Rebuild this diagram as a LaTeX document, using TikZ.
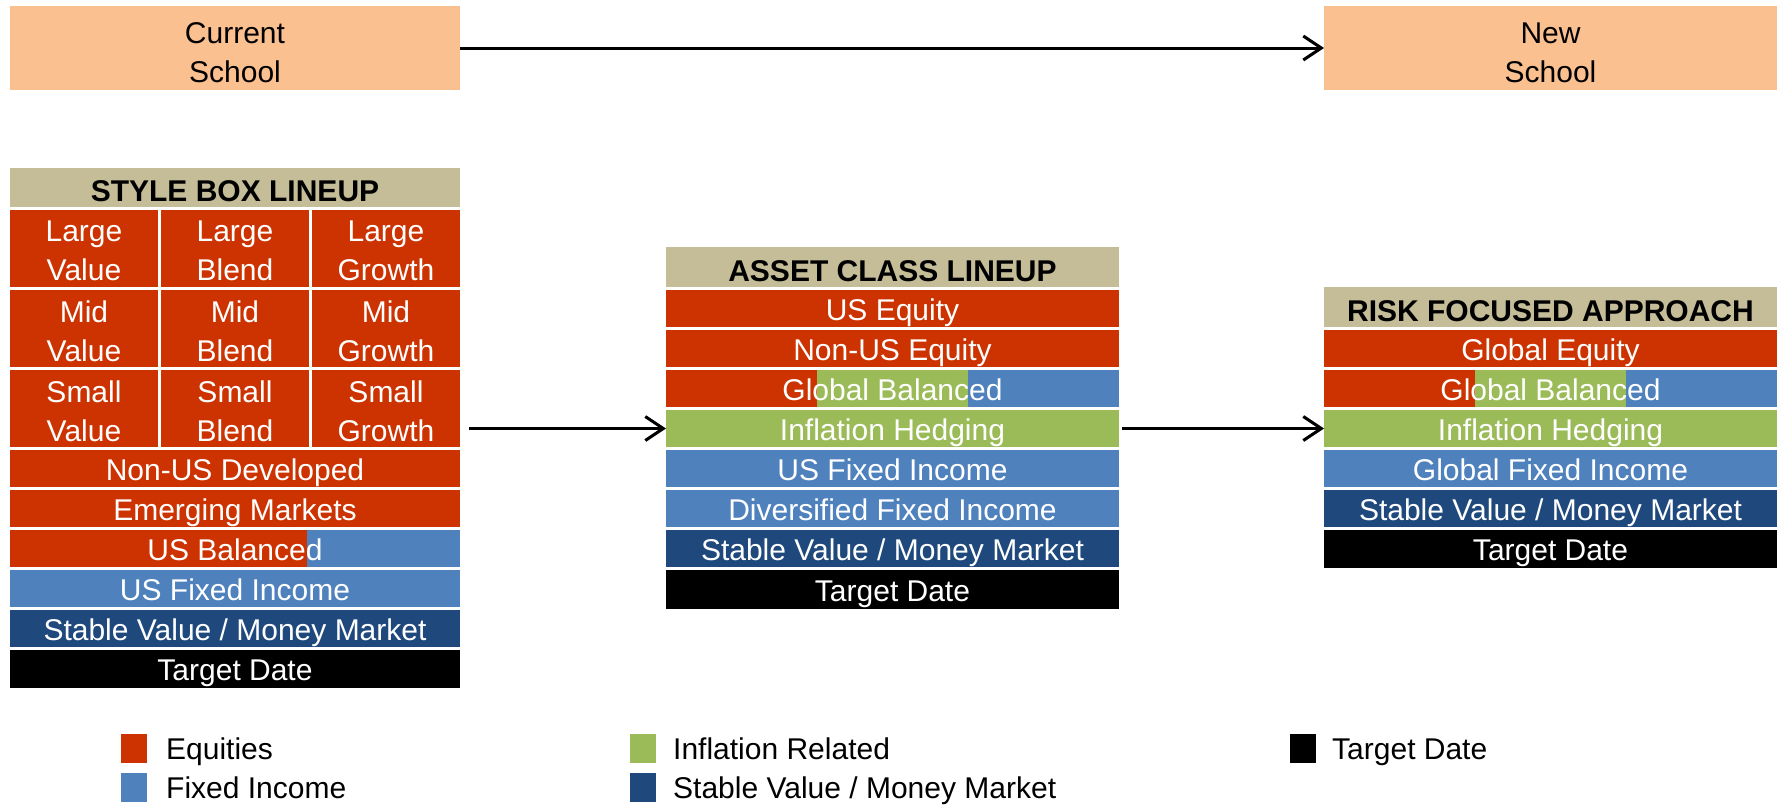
\documentclass[tikz,border=0pt]{standalone}
\usepackage{fontspec}
\setmainfont{Liberation Sans}
\usetikzlibrary{arrows.meta}
\definecolor{eqc}{HTML}{CC3300}
\definecolor{fic}{HTML}{4F81BD}
\definecolor{infc}{HTML}{9BBB59}
\definecolor{svc}{HTML}{1F497D}
\definecolor{hdrc}{HTML}{C4BD97}
\definecolor{peachc}{HTML}{FAC090}
% \cellbox{name}{x1}{x2}{y1}{y2}{style}{text}
\newcommand{\cellbox}[7]{%
  \node[cell,#6,minimum width={(#3-#2)*1pt},minimum height={(#5-#4)*1pt}] (#1) at ({(#2+#3)/2},{(#4+#5)/2}) {#7};}
% \twocell{name}{x1}{x2}{y1}{y2}{style}{text}{shift down}
\newcommand{\twocell}[8]{%
  \node[cellbase,#6,minimum width={(#3-#2)*1pt},minimum height={(#5-#4)*1pt}] (#1) at ({(#2+#3)/2},{(#4+#5)/2}) {};
  \node[cellbase,#6,fill=none] (#1t) at ([yshift=-#8pt]#1.center) {#7};}
\begin{document}
\begin{tikzpicture}[x=1pt,y=-1pt,
  cellbase/.style={inner sep=0pt,outer sep=0pt,align=center,text=white,font=\fontsize{30}{39}\selectfont},
  cell/.style={cellbase,text height=23pt,text depth=0pt},
  eq/.style={fill=eqc},
  fi/.style={fill=fic},
  inf/.style={fill=infc},
  sv/.style={fill=svc},
  td/.style={fill=black},
  hdr/.style={fill=hdrc,text=black,font=\fontsize{30}{39}\selectfont\bfseries,text height=28pt},
  school/.style={fill=peachc,text=black},
  clear/.style={},
  arr/.style={line width=3pt,-{Straight Barb[length=18pt,width=24pt,line width=3pt]}},
  legtext/.style={anchor=west,inner sep=0pt,font=\fontsize{30}{39}\selectfont,text height=22pt,text depth=0pt},
  legsq/.style={inner sep=0pt,outer sep=0pt,minimum width=26pt,minimum height=29pt}]
\useasboundingbox (0,0) rectangle (1781,804);

% top
\twocell{cur}{10}{460}{6}{90}{school}{Current\\School}{4.5}
\twocell{new}{1324}{1777}{6}{90}{school}{New\\School}{4.5}
\draw[arr] (cur.east) -- (new.west);

% style box lineup
\cellbox{sh}{10}{460}{168}{207}{hdr}{STYLE BOX LINEUP}
\twocell{s11}{10}{158}{210}{287}{eq}{Large\\Value}{2.5}
\twocell{s12}{161}{309}{210}{287}{eq}{Large\\Blend}{2.5}
\twocell{s13}{312}{460}{210}{287}{eq}{Large\\Growth}{2.5}
\twocell{s21}{10}{158}{290}{367}{eq}{Mid\\Value}{2.5}
\twocell{s22}{161}{309}{290}{367}{eq}{Mid\\Blend}{2.5}
\twocell{s23}{312}{460}{290}{367}{eq}{Mid\\Growth}{2.5}
\twocell{s31}{10}{158}{370}{447}{eq}{Small\\Value}{2.5}
\twocell{s32}{161}{309}{370}{447}{eq}{Small\\Blend}{2.5}
\twocell{s33}{312}{460}{370}{447}{eq}{Small\\Growth}{2.5}
\cellbox{s4}{10}{460}{450}{487}{eq}{Non-US Developed}
\cellbox{s5}{10}{460}{490}{527}{eq}{Emerging Markets}
\fill[eqc] (10,530) rectangle (307,567);
\fill[fic] (307,530) rectangle (460,567);
\cellbox{s6}{10}{460}{530}{567}{clear}{US Balanced}
\cellbox{s7}{10}{460}{570}{607}{fi}{US Fixed Income}
\cellbox{s8}{10}{460}{610}{647}{sv}{Stable Value / Money Market}
\cellbox{s9}{10}{460}{650}{688}{td}{Target Date}

% asset class lineup
\cellbox{ah}{666}{1119}{247}{287}{hdr}{ASSET CLASS LINEUP}
\cellbox{a1}{666}{1119}{290}{327}{eq}{US Equity}
\cellbox{a2}{666}{1119}{330}{367}{eq}{Non-US Equity}
\fill[eqc] (666,370) rectangle (817,407);
\fill[infc] (817,370) rectangle (968,407);
\fill[fic] (968,370) rectangle (1119,407);
\cellbox{a3}{666}{1119}{370}{407}{clear}{Global Balanced}
\cellbox{a4}{666}{1119}{410}{447}{inf}{Inflation Hedging}
\cellbox{a5}{666}{1119}{450}{487}{fi}{US Fixed Income}
\cellbox{a6}{666}{1119}{490}{527}{fi}{Diversified Fixed Income}
\cellbox{a7}{666}{1119}{530}{567}{sv}{Stable Value / Money Market}
\cellbox{a8}{666}{1119}{570}{609}{td}{Target Date}

% risk focused approach
\cellbox{rh}{1324}{1777}{287}{327}{hdr}{RISK FOCUSED APPROACH}
\cellbox{r1}{1324}{1777}{330}{367}{eq}{Global Equity}
\fill[eqc] (1324,370) rectangle (1475,407);
\fill[infc] (1475,370) rectangle (1626,407);
\fill[fic] (1626,370) rectangle (1777,407);
\cellbox{r2}{1324}{1777}{370}{407}{clear}{Global Balanced}
\cellbox{r3}{1324}{1777}{410}{447}{inf}{Inflation Hedging}
\cellbox{r4}{1324}{1777}{450}{487}{fi}{Global Fixed Income}
\cellbox{r5}{1324}{1777}{490}{527}{sv}{Stable Value / Money Market}
\cellbox{r6}{1324}{1777}{530}{568}{td}{Target Date}

% arrows
\draw[arr,shorten <=9pt] (s33.east |- a4.west) -- (a4.west);
\draw[arr,shorten <=3pt] (a4.east) -- (r3.west);

% legend
\node[legsq,fill=eqc] (l1) at (133.5,748.5) {};
\node[legsq,fill=fic] (l2) at (133.5,787.5) {};
\node[legsq,fill=infc] (l3) at (643,748.5) {};
\node[legsq,fill=svc] (l4) at (643,787.5) {};
\node[legsq,fill=black] (l5) at (1302.5,748.5) {};
\node[legtext] (t1) at (166,748.5) {Equities};
\node[legtext] (t2) at (166,787.5) {Fixed Income};
\node[legtext] (t3) at (673,748.5) {Inflation Related};
\node[legtext] (t4) at (673,787.5) {Stable Value / Money Market};
\node[legtext] (t5) at (1332,748.5) {Target Date};
\end{tikzpicture}
\end{document}
